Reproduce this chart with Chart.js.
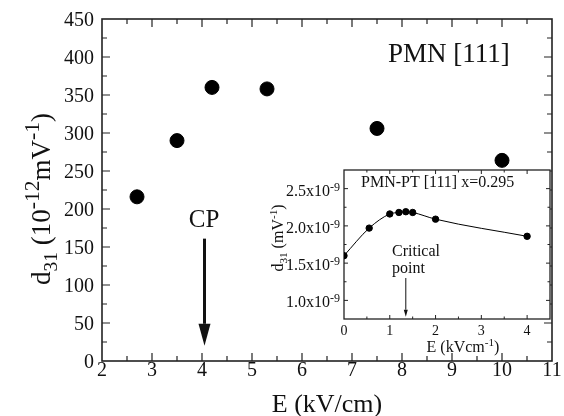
<!DOCTYPE html>
<html>
<head>
<meta charset="utf-8">
<script src="https://cdn.jsdelivr.net/npm/chart.js@4"></script>
<style>
  html, body { margin: 0; padding: 0; background: #fff; }
  #wrap { position: relative; width: 564px; height: 416px; }
  #main { position: absolute; left: 0; top: 0; }
  #inset { position: absolute; left: 255px; top: 165px; }
</style>
</head>
<body>
<div id="wrap">
  <canvas id="main" width="564" height="416"></canvas>
  <canvas id="inset" width="309" height="195"></canvas>
</div>
<script>
// main plot: PMN [111]
const fieldE = [2.7, 3.5, 4.2, 5.3, 7.5, 10.0];
const d31 = [216, 290, 360, 358, 306, 264];
const mainXTicks = [2, 3, 4, 5, 6, 7, 8, 9, 10, 11];
const mainYTicks = [0, 50, 100, 150, 200, 250, 300, 350, 400, 450];

// inset: PMN-PT [111] x=0.295
const insetE = [0, 0.55, 1.0, 1.2, 1.35, 1.5, 2.0, 4.0];
const insetD31 = [1.60e-9, 1.97e-9, 2.16e-9, 2.18e-9, 2.19e-9, 2.18e-9, 2.09e-9, 1.86e-9];
const insetXTicks = [0, 1, 2, 3, 4];
const insetYTicks = [1.0e-9, 1.5e-9, 2.0e-9, 2.5e-9];

const SERIF = "'Liberation Serif', serif";
const INK = '#111';

// text with sub/superscripts: parts = [[text, ''|'sub'|'sup'], ...]
function drawRich(ctx, parts, x, y, size, align, rot, o) {
  o = Object.assign({ supScale: 0.75, supRise: 0.42, subScale: 0.7, subDrop: 0.25 }, o || {});
  const fontFor = k => (k === 'sup' ? size * o.supScale : k === 'sub' ? size * o.subScale : size) + 'px ' + SERIF;
  ctx.save();
  ctx.translate(x, y);
  if (rot) ctx.rotate(rot);
  ctx.textBaseline = 'alphabetic';
  ctx.textAlign = 'left';
  ctx.fillStyle = INK;
  let w = 0;
  parts.forEach(([t, k]) => { ctx.font = fontFor(k); w += ctx.measureText(t).width; });
  let cx = align === 'center' ? -w / 2 : align === 'right' ? -w : 0;
  parts.forEach(([t, k]) => {
    ctx.font = fontFor(k);
    const dy = k === 'sup' ? -size * o.supRise : k === 'sub' ? size * o.subDrop : 0;
    ctx.fillText(t, cx, dy);
    cx += ctx.measureText(t).width;
  });
  ctx.restore();
}

// box frame + inward major/minor ticks on all four sides
const frameTicks = {
  id: 'frameTicks',
  beforeDatasetsDraw(chart, args, o) {
    const { ctx, chartArea: a, scales } = chart;
    ctx.save();
    ctx.fillStyle = '#fff';
    ctx.fillRect(a.left, a.top, a.width, a.height);
    ctx.strokeStyle = '#222';
    ctx.lineWidth = o.width;
    ctx.strokeRect(a.left, a.top, a.width, a.height);
    ctx.lineWidth = o.tickWidth;
    ctx.beginPath();
    ['x', 'y'].forEach(id => {
      const s = scales[id], t = o[id];
      const n = Math.round((s.max - s.min) / t.minor);
      for (let i = 1; i < n; i++) {
        const v = s.min + i * t.minor;
        const r = v / t.major;
        const len = Math.abs(r - Math.round(r)) < 1e-6 ? o.major : o.minor;
        const p = s.getPixelForValue(v);
        if (id === 'x') {
          ctx.moveTo(p, a.bottom); ctx.lineTo(p, a.bottom - len);
          ctx.moveTo(p, a.top); ctx.lineTo(p, a.top + len);
        } else {
          ctx.moveTo(a.left, p); ctx.lineTo(a.left + len, p);
          ctx.moveTo(a.right, p); ctx.lineTo(a.right - len, p);
        }
      }
    });
    ctx.stroke();
    ctx.restore();
  }
};

// tick labels, titles and arrows
const notes = {
  id: 'notes',
  afterDatasetsDraw(chart, args, o) {
    const { ctx, chartArea: a, scales } = chart;
    (o.arrows || []).forEach(ar => {
      const x = scales.x.getPixelForValue(ar.x);
      const y1 = scales.y.getPixelForValue(ar.y1);
      const y2 = scales.y.getPixelForValue(ar.y2);
      ctx.save();
      ctx.strokeStyle = INK; ctx.fillStyle = INK; ctx.lineWidth = ar.lw;
      ctx.beginPath(); ctx.moveTo(x, y1); ctx.lineTo(x, y2 - ar.head); ctx.stroke();
      ctx.beginPath();
      ctx.moveTo(x - ar.headW / 2, y2 - ar.head);
      ctx.lineTo(x + ar.headW / 2, y2 - ar.head);
      ctx.lineTo(x, y2);
      ctx.closePath(); ctx.fill();
      ctx.restore();
    });
    const xl = o.xLabels, yl = o.yLabels;
    if (xl) xl.values.forEach(v => {
      drawRich(ctx, xl.fmt(v), scales.x.getPixelForValue(v), a.bottom + xl.offset, xl.size, 'center', 0, xl.opts);
    });
    if (yl) yl.values.forEach(v => {
      drawRich(ctx, yl.fmt(v), a.left - yl.gap, scales.y.getPixelForValue(v) + yl.offset, yl.size, 'right', 0, yl.opts);
    });
    (o.texts || []).forEach(t => drawRich(ctx, t.parts, t.x, t.y, t.size, t.align, t.rot, t.opts));
  }
};

const plain = v => [[String(v), '']];
const hiddenScale = (min, max, fitKey, fitVal) => ({
  type: 'linear', min: min, max: max,
  grid: { display: false, drawTicks: false },
  border: { display: false },
  ticks: { display: false },
  afterFit(s) { s[fitKey] = fitVal; }
});

new Chart(document.getElementById('main'), {
  type: 'scatter',
  data: {
    datasets: [{
      data: fieldE.map((x, i) => ({ x: x, y: d31[i] })),
      pointRadius: 7,
      pointHoverRadius: 7,
      backgroundColor: '#000',
      borderColor: '#000'
    }]
  },
  options: {
    responsive: false,
    animation: false,
    events: [],
    layout: { padding: { left: 0, top: 19, right: 12, bottom: 0 } },
    plugins: {
      legend: { display: false },
      tooltip: { enabled: false },
      frameTicks: { width: 1.6, tickWidth: 1.2, major: 8, minor: 5, x: { major: 1, minor: 0.5 }, y: { major: 50, minor: 25 } },
      notes: {
        xLabels: { values: mainXTicks, fmt: plain, size: 20, offset: 15 },
        yLabels: { values: mainYTicks, fmt: plain, size: 20, offset: 6.5, gap: 8 },
        arrows: [{ x: 4.05, y1: 161, y2: 20, lw: 3, head: 22, headW: 12 }],
        texts: [
          { parts: [['PMN [111]', '']], x: 388, y: 62, size: 27, align: 'left' },
          { parts: [['CP', '']], x: 204, y: 227, size: 25, align: 'center' },
          { parts: [['E (kV/cm)', '']], x: 327, y: 412, size: 26, align: 'center' },
          { parts: [['d', ''], ['31', 'sub'], [' (10', ''], ['-12', 'sup'], ['mV', ''], ['-1', 'sup'], [')', '']],
            x: 50, y: 199, size: 27, align: 'center', rot: -Math.PI / 2, opts: { supScale: 0.8, supRise: 0.42, subScale: 0.72 } }
        ]
      }
    },
    scales: {
      x: hiddenScale(2, 11, 'height', 55),
      y: hiddenScale(0, 450, 'width', 102)
    }
  },
  plugins: [frameTicks, notes]
});

new Chart(document.getElementById('inset'), {
  type: 'scatter',
  data: {
    datasets: [{
      data: insetE.map((x, i) => ({ x: x, y: insetD31[i] })),
      showLine: true,
      cubicInterpolationMode: 'monotone',
      borderColor: '#000',
      borderWidth: 1,
      pointRadius: 3.2,
      pointHoverRadius: 3.2,
      backgroundColor: '#000'
    }]
  },
  options: {
    responsive: false,
    animation: false,
    events: [],
    layout: { padding: { left: 0, top: 5, right: 14, bottom: 0 } },
    plugins: {
      legend: { display: false },
      tooltip: { enabled: false },
      frameTicks: { width: 1.3, tickWidth: 1, major: 4, minor: 2.5, x: { major: 1, minor: 0.5 }, y: { major: 0.5e-9, minor: 0.25e-9 } },
      notes: {
        xLabels: { values: insetXTicks, fmt: plain, size: 14, offset: 16 },
        yLabels: {
          values: insetYTicks, size: 16, offset: 7, gap: 4,
          fmt: v => [[(v / 1e-9).toFixed(1) + 'x10', ''], ['-9', 'sup']],
          opts: { supScale: 0.75, supRise: 0.32 }
        },
        arrows: [{ x: 1.35, y1: 1.30e-9, y2: 0.78e-9, lw: 1, head: 7, headW: 4 }],
        texts: [
          { parts: [['PMN-PT [111] x=0.295', '']], x: 106, y: 22, size: 16, align: 'left' },
          { parts: [['Critical', '']], x: 137, y: 91, size: 16, align: 'left' },
          { parts: [['point', '']], x: 137, y: 108, size: 16, align: 'left' },
          { parts: [['E (kVcm', ''], ['-1', 'sup'], [')', '']], x: 208, y: 187, size: 16, align: 'center',
            opts: { supScale: 0.7, supRise: 0.35 } },
          { parts: [['d', ''], ['31', 'sub'], [' (mV', ''], ['-1', 'sup'], [')', '']],
            x: 28, y: 73, size: 16, align: 'center', rot: -Math.PI / 2, opts: { supScale: 0.7, supRise: 0.35 } }
        ]
      }
    },
    scales: {
      x: hiddenScale(0, 4.5, 'height', 41),
      y: hiddenScale(0.75e-9, 2.75e-9, 'width', 89)
    }
  },
  plugins: [frameTicks, notes]
});
</script>
</body>
</html>
